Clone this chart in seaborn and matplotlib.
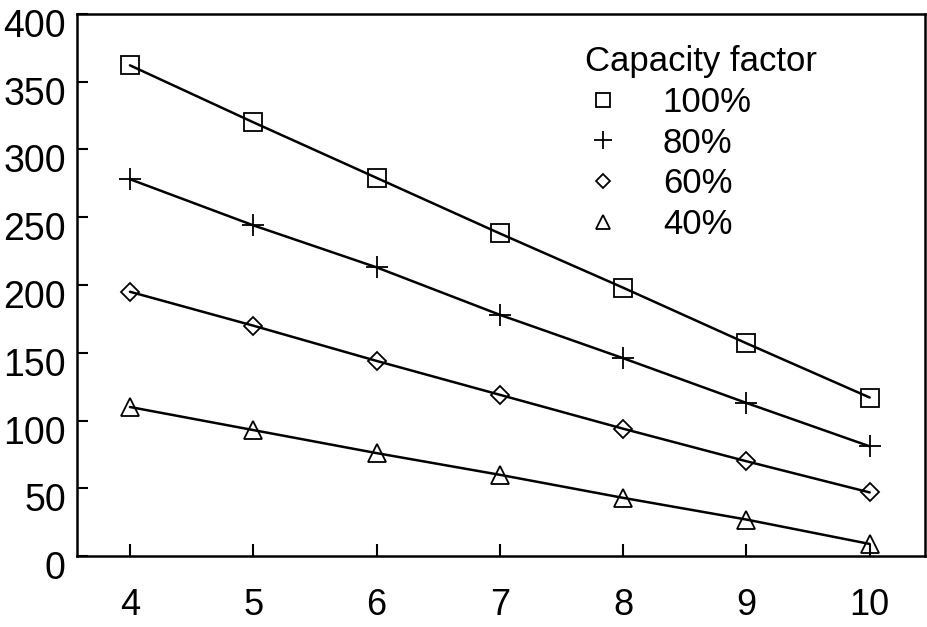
import numpy as np
import pandas as pd
import matplotlib
matplotlib.use("Agg")
import matplotlib.pyplot as plt
import seaborn as sns
from matplotlib.lines import Line2D
from matplotlib.transforms import ScaledTranslation

sns.set_theme(style="white")
plt.rcParams['font.family'] = ['Liberation Sans', 'DejaVu Sans']
plt.rcParams['text.color'] = 'black'

years = [4, 5, 6, 7, 8, 9, 10]
series_labels = ["100%", "80%", "60%", "40%"]
cf100 = [362, 320, 279, 238, 198, 157, 117]
cf80 = [278, 244, 213, 178, 146, 113, 81]
cf60 = [195, 170, 144, 119, 94, 70, 47]
cf40 = [110, 93, 76, 60, 43, 27, 9]
y_ticks = [0, 50, 100, 150, 200, 250, 300, 350, 400]
x_ticks = [4, 5, 6, 7, 8, 9, 10]

frames = []
for lab, vals in zip(series_labels, [cf100, cf80, cf60, cf40]):
    frames.append(pd.DataFrame({"x": years, "y": vals, "cf": lab}))
df = pd.concat(frames, ignore_index=True)

marker_map = {"100%": "s", "80%": "+", "60%": "D", "40%": "^"}
msize = {"100%": 13, "80%": 16, "60%": 9, "40%": 13}
lsize = {"100%": 10, "80%": 13, "60%": 7.5, "40%": 10}

fig = plt.figure(figsize=(9.27, 6.27), dpi=100)
ax = fig.add_axes([0.083, 0.113, 0.915, 0.865])

for lab in series_labels:
    sub = df[df["cf"] == lab]
    sns.lineplot(data=sub, x="x", y="y", ax=ax, color="black", lw=1.8,
                 marker=marker_map[lab], markersize=msize[lab],
                 markerfacecolor="none", markeredgecolor="black",
                 markeredgewidth=1.3, legend=False)

ax.set_xlim(3.57, 10.45)
ax.set_ylim(0, 400)
ax.set_xticks(x_ticks)
ax.set_yticks(y_ticks)
ax.set_xlabel("")
ax.set_ylabel("")
for s in ax.spines.values():
    s.set_color("black")
    s.set_linewidth(1.8)
ax.tick_params(axis="y", direction="in", length=8, width=1.5, pad=8,
               labelsize=27, colors="black", left=True)
ax.tick_params(axis="x", direction="in", length=9, width=1.5, pad=23,
               labelsize=26, colors="black", bottom=True)
off = ScaledTranslation(0, -0.09, fig.dpi_scale_trans)
for t in ax.get_yticklabels():
    t.set_transform(t.get_transform() + off)

handles = [Line2D([], [], linestyle="none", marker=marker_map[l],
                  markersize=lsize[l], markerfacecolor="none",
                  markeredgecolor="black", markeredgewidth=1.3)
           for l in series_labels]
leg = ax.legend(handles, series_labels, title="Capacity factor",
                loc="upper left", bbox_to_anchor=(0.599, 0.942),
                frameon=False, fontsize=25, title_fontsize=25,
                labelspacing=0.22, handletextpad=1.2, handlelength=1.04,
                borderpad=0, borderaxespad=0, labelcolor="black")
leg.get_title().set_color("black")
leg._legend_box.align = "left"

fig.savefig("out.png", dpi=100)
